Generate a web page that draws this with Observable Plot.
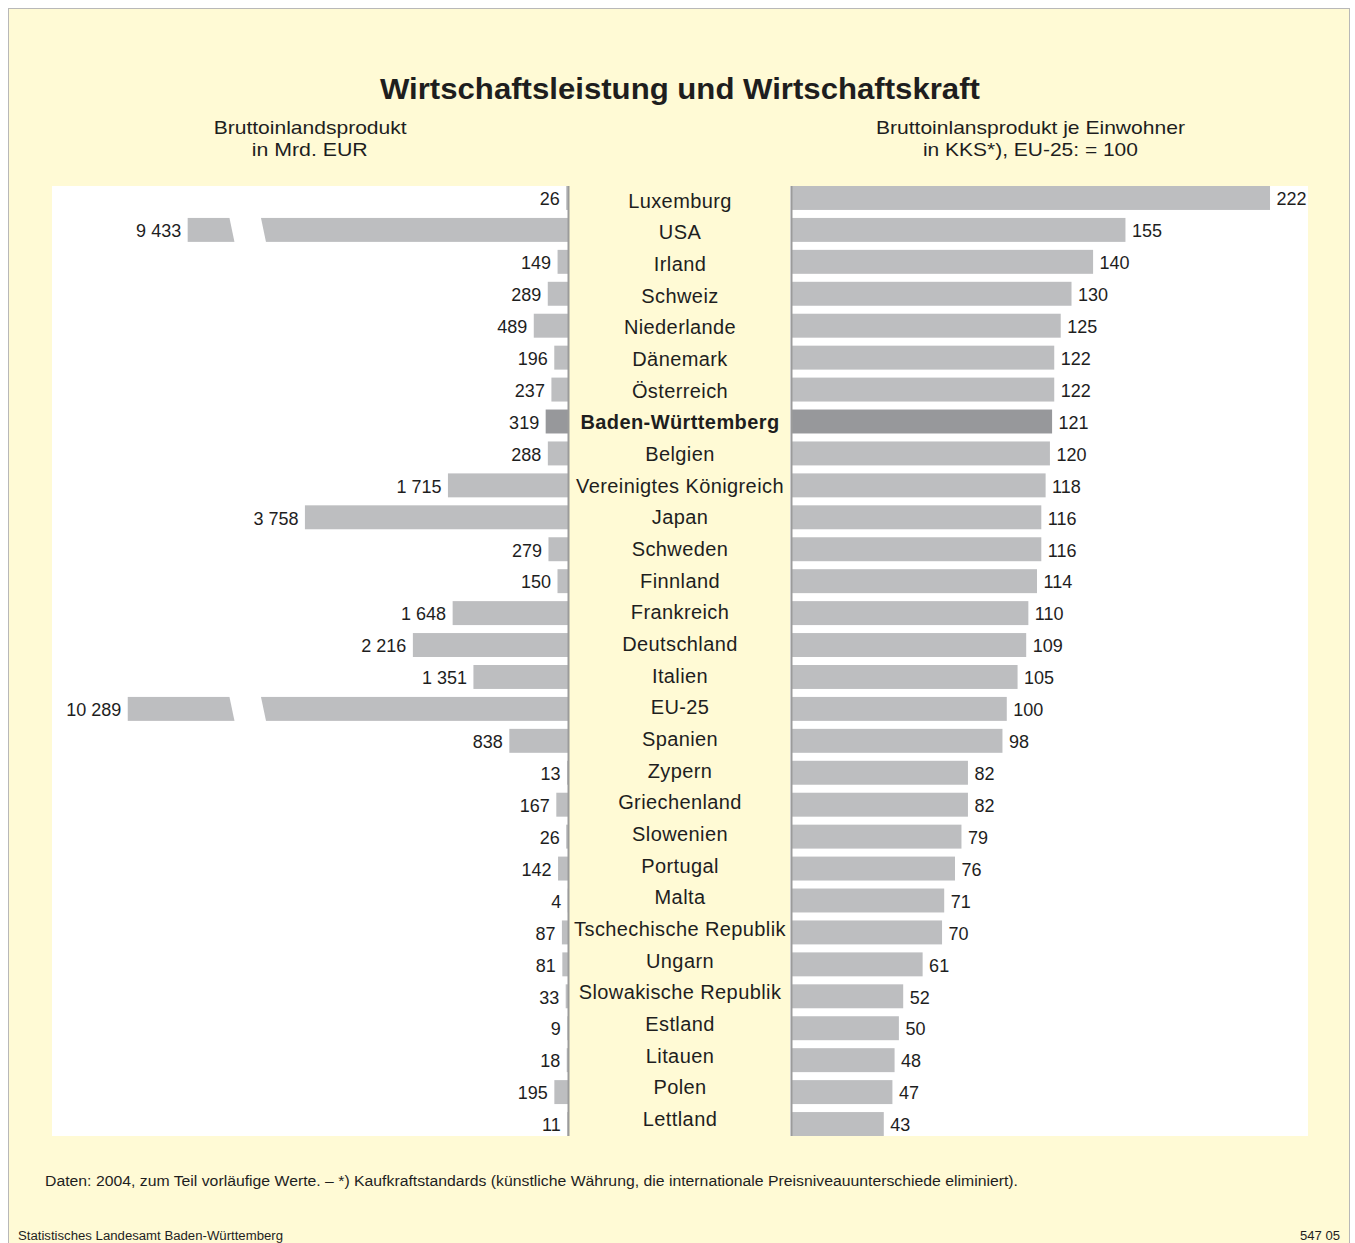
<!DOCTYPE html>
<html>
<head>
<meta charset="utf-8">
<script src="https://cdn.jsdelivr.net/npm/d3@7"></script>
<script src="https://cdn.jsdelivr.net/npm/@observablehq/plot@0.6"></script>
<style>
  body { margin:0; background:#fff; font-family:"Liberation Sans", Arial, sans-serif; color:#1e1e1e; }
  #wrap { position:relative; width:1355px; height:1243px; overflow:hidden; }
  #page { position:absolute; left:8px; top:8px; width:1342px; height:1260px; background:#fffad5; border:1px solid #b8b8b8; box-sizing:border-box; }
  .abs { position:absolute; white-space:nowrap; }
  .fit { display:inline-block; }
</style>
</head>
<body>
<div id="wrap">
  <div id="page"></div>
  <div class="abs" id="title" style="left:0;width:1360px;top:72px;text-align:center;font-size:30px;font-weight:bold;"><span class="fit" data-w="600">Wirtschaftsleistung und Wirtschaftskraft</span></div>
  <div class="abs" style="left:110px;width:400px;top:117px;text-align:center;font-size:19px;line-height:22px;"><span class="fit" data-w="193">Bruttoinlandsprodukt</span><br><span class="fit" data-w="116">in Mrd. EUR</span></div>
  <div class="abs" style="left:830px;width:400px;top:117px;text-align:center;font-size:19px;line-height:22px;"><span class="fit" data-w="309">Bruttoinlansprodukt je Einwohner</span><br><span class="fit" data-w="215">in KKS*), EU-25: = 100</span></div>
  <div class="abs" id="leftPlot" style="left:52px;top:186px;"></div>
  <div class="abs" id="centerPlot" style="left:569px;top:186px;"></div>
  <div class="abs" id="rightPlot" style="left:790px;top:186px;"></div>
  <div class="abs" style="left:45px;top:1173px;font-size:14px;"><span class="fit" data-w="973" data-origin="left">Daten: 2004, zum Teil vorläufige Werte. – *) Kaufkraftstandards (künstliche Währung, die internationale Preisniveauunterschiede eliminiert).</span></div>
  <div class="abs" style="left:18px;top:1229px;font-size:12px;"><span class="fit" data-w="265" data-origin="left">Statistisches Landesamt Baden-Württemberg</span></div>
  <div class="abs" style="left:1300px;top:1229px;font-size:12px;"><span class="fit" data-w="40" data-origin="left">547 05</span></div>
</div>
<script>
// ---- data ----
const names = ["Luxemburg","USA","Irland","Schweiz","Niederlande","Dänemark","Österreich","Baden-Württemberg","Belgien","Vereinigtes Königreich","Japan","Schweden","Finnland","Frankreich","Deutschland","Italien","EU-25","Spanien","Zypern","Griechenland","Slowenien","Portugal","Malta","Tschechische Republik","Ungarn","Slowakische Republik","Estland","Litauen","Polen","Lettland"];
const gdp = [26,9433,149,289,489,196,237,319,288,1715,3758,279,150,1648,2216,1351,10289,838,13,167,26,142,4,87,81,33,9,18,195,11];
const ppp = [222,155,140,130,125,122,122,121,120,118,116,116,114,110,109,105,100,98,82,82,79,76,71,70,61,52,50,48,47,43];
const highlight = "Baden-Württemberg";

// axis break on the left panel (values above the threshold are shortened)
const breakThreshold = 5000;
const breakCut = 4000;
const gapLo = 4350, gapHi = 4800;

const grey = "#bdbec0", dark = "#97989b", ruleColor = "#9b9b9b", textColor = "#1e1e1e";

const rows = names.map((name, i) => ({name, gdp: gdp[i], ppp: ppp[i]}));
const shown = v => v > breakThreshold ? v - breakCut : v;
const fmt = d3.formatLocale({thousands: " ", grouping: [3], decimal: ","}).format(",d");
const isHi = d => d.name === highlight;

const H = 950;
const yOpts = {domain: names, paddingInner: 0.25, paddingOuter: 0, round: false, axis: null};
const baseStyle = {fontFamily: "'Liberation Sans', Arial, sans-serif", fontSize: "18px", color: textColor, overflow: "visible"};

const left = Plot.plot({
  width: 517, height: H, marginLeft: 0, marginRight: 1, marginTop: 0, marginBottom: 0,
  x: {domain: [0, 7371], reverse: true, axis: null},
  y: yOpts,
  style: {...baseStyle, background: "white"},
  marks: [
    Plot.barX(rows.filter(d => !isHi(d)), {x1: () => 0, x2: d => shown(d.gdp), y: "name", fill: grey}),
    Plot.barX(rows.filter(isHi), {x1: () => 0, x2: d => shown(d.gdp), y: "name", fill: dark}),
    Plot.barX(rows.filter(d => d.gdp > breakThreshold), {x1: () => gapLo, x2: () => gapHi, y: "name", fill: "#ffffff", insetTop: -1, insetBottom: -1, ariaLabel: "gap"}),
    Plot.text(rows, {x: d => shown(d.gdp), y: "name", text: d => fmt(d.gdp), textAnchor: "end", dx: -7, dy: 1, fill: textColor}),
    Plot.ruleX([0], {stroke: ruleColor, strokeWidth: 2})
  ]
});
document.getElementById("leftPlot").appendChild(left);
// slant the break gaps
left.querySelectorAll("rect").forEach(r => {
  const g = r.closest("g");
  const f = (r.getAttribute("fill") || (g && g.getAttribute("fill")) || "").toLowerCase();
  const lab = g && g.getAttribute("aria-label");
  if (f !== "#ffffff" && f !== "white" && lab !== "gap") return;
  const x = +r.getAttribute("x"), y = +r.getAttribute("y"), w = +r.getAttribute("width"), h = +r.getAttribute("height");
  if (!(w > 0 && h > 0) || w > 100) return;
  const cx = x + w / 2, cy = y + h / 2;
  r.setAttribute("transform", `translate(${cx},${cy}) skewX(11.8) translate(${-cx},${-cy})`);
});

const center = Plot.plot({
  width: 221, height: H, margin: 0,
  y: yOpts,
  style: {...baseStyle, fontSize: "20px", background: "transparent"},
  marks: [
    Plot.text(rows.filter(d => !isHi(d)), {y: "name", text: "name", frameAnchor: "middle", fill: textColor, fontSize: 20, dy: -1}),
    Plot.text(rows.filter(isHi), {y: "name", text: "name", frameAnchor: "middle", fill: textColor, fontSize: 20, fontWeight: "bold", dy: -1})
  ]
});
center.querySelectorAll("text").forEach(t => t.style.letterSpacing = "0.4px");
document.getElementById("centerPlot").appendChild(center);

const right = Plot.plot({
  width: 518, height: H, marginLeft: 1, marginRight: 0, marginTop: 0, marginBottom: 0,
  x: {domain: [0, 239.6], axis: null},
  y: yOpts,
  style: {...baseStyle, background: "white"},
  marks: [
    Plot.barX(rows.filter(d => !isHi(d)), {x1: () => 0, x2: "ppp", y: "name", fill: grey}),
    Plot.barX(rows.filter(isHi), {x1: () => 0, x2: "ppp", y: "name", fill: dark}),
    Plot.text(rows, {x: "ppp", y: "name", text: d => fmt(d.ppp), textAnchor: "start", dx: 6, dy: 1, fill: textColor}),
    Plot.ruleX([0], {stroke: ruleColor, strokeWidth: 2})
  ]
});
document.getElementById("rightPlot").appendChild(right);

// fit condensed text widths
document.querySelectorAll(".fit").forEach(el => {
  const target = +el.dataset.w;
  const w = el.getBoundingClientRect().width;
  if (w > 0) {
    el.style.transformOrigin = el.dataset.origin === "left" ? "left center" : "center center";
    el.style.transform = `scaleX(${target / w})`;
  }
});
</script>
</body>
</html>
